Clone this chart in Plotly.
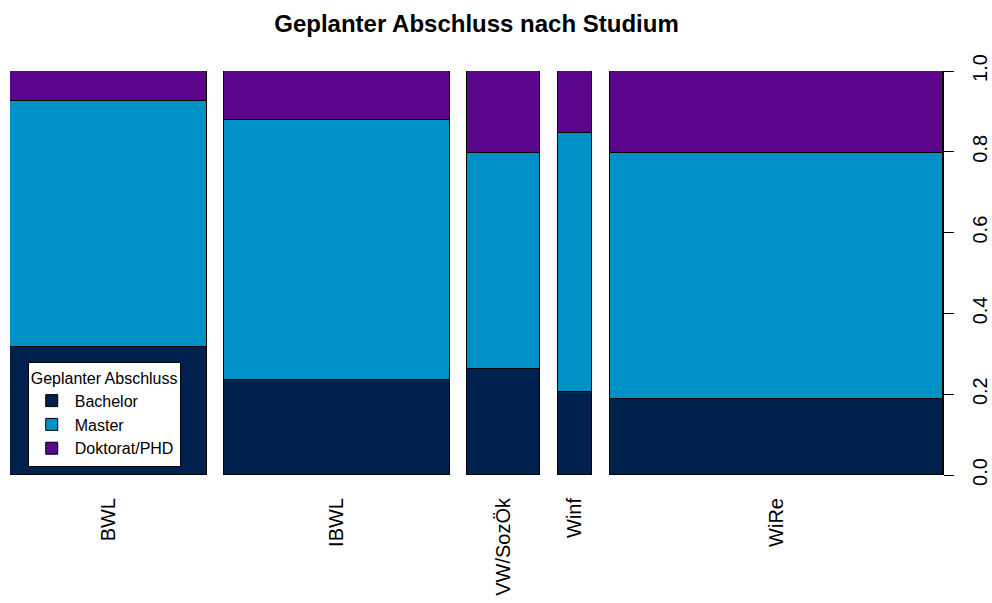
import plotly.graph_objects as go

FONT = "Liberation Sans, Arial, Helvetica, sans-serif"

# Studiengaenge and their share of all respondents (bar widths)
studium = ["BWL", "IBWL", "VW/SozÖk", "Winf", "WiRe"]
studium_anteil = [0.228, 0.261, 0.085, 0.040, 0.386]

# conditional shares of the planned degree within each Studium
abschluss = ["Bachelor", "Master", "Doktorat/PHD"]
anteil_bachelor = [0.317, 0.235, 0.262, 0.205, 0.188]
anteil_master = [0.609, 0.643, 0.535, 0.641, 0.610]
anteil_doktorat = [0.074, 0.122, 0.203, 0.154, 0.202]

farben = ["#00214E", "#0092C6", "#5B068C"]

# spineplot layout: bars side by side, 2% gap between them
GAP = 0.02
lefts = []
pos = 0.0
for w in studium_anteil:
    lefts.append(pos)
    pos += w + GAP
centers = [l + w / 2 for l, w in zip(lefts, studium_anteil)]
x_max = lefts[-1] + studium_anteil[-1]

fig = go.Figure()
for name, werte, farbe in zip(abschluss, [anteil_bachelor, anteil_master, anteil_doktorat], farben):
    fig.add_trace(go.Bar(
        name=name,
        x=centers,
        y=werte,
        width=studium_anteil,
        marker=dict(color=farbe, line=dict(color="black", width=1)),
    ))

fig.update_layout(
    barmode="stack",
    width=992,
    height=603,
    paper_bgcolor="white",
    plot_bgcolor="white",
    margin=dict(l=10, r=49, t=71, b=128),
    font=dict(family=FONT, size=20, color="black"),
    title=dict(
        text="<b>Geplanter Abschluss nach Studium</b>",
        font=dict(size=24),
        x=0.5, xref="paper", xanchor="center",
        y=1 - 24 / 603, yref="container", yanchor="middle",
    ),
    showlegend=True,
    legend=dict(
        title=dict(text="Geplanter Abschluss", font=dict(size=16)),
        font=dict(size=16),
        traceorder="normal",
        itemwidth=36,
        x=0.019, xanchor="left",
        y=0.02, yanchor="bottom",
        bgcolor="white",
        bordercolor="black",
        borderwidth=1,
        tracegroupgap=0,
    ),
    bargap=0,
)

fig.update_xaxes(
    range=[0, x_max],
    tickvals=centers,
    ticktext=studium,
    tickangle=-90,
    ticks="",
    showline=False,
    showgrid=False,
    zeroline=False,
    automargin=False,
    ticklabelstandoff=18,
)
fig.update_yaxes(
    range=[0, 1],
    side="right",
    tickvals=[0, 0.2, 0.4, 0.6, 0.8, 1.0],
    ticktext=["0.0", "0.2", "0.4", "0.6", "0.8", "1.0"],
    tickangle=-90,
    ticks="outside",
    ticklen=10,
    tickcolor="black",
    showline=True,
    linecolor="black",
    linewidth=1,
    showgrid=False,
    zeroline=False,
    automargin=False,
    ticklabelstandoff=9,
)

# the page's default body margin would push the figure 8px off the window
fig.write_html(
    "out.html",
    config={"displayModeBar": False},
    post_script="document.body.style.margin='0';",
)
